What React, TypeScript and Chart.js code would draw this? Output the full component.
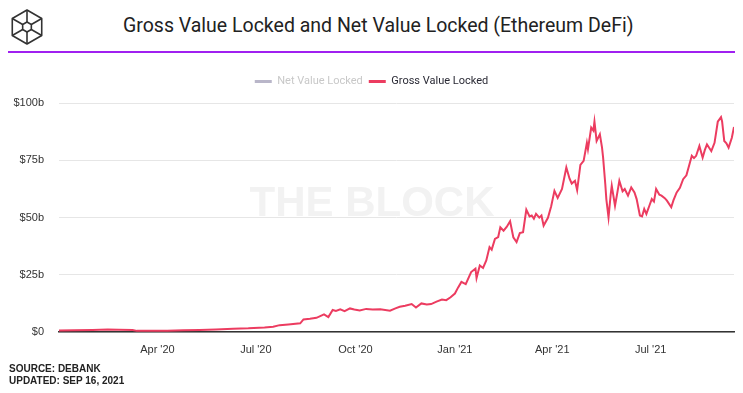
import { useEffect, useRef } from "react";
import { Chart, registerables } from "chart.js";

Chart.register(...registerables);

const START_DATE = "2020-01-01";
const END_DATE = "2021-09-16";

const dates = [
  "2020-01-01", "2020-01-15", "2020-02-01", "2020-02-15", "2020-02-25", "2020-03-09", "2020-03-13", "2020-03-26",
  "2020-04-10", "2020-04-25", "2020-05-10", "2020-05-25", "2020-06-10", "2020-06-24", "2020-07-09", "2020-07-17",
  "2020-07-23", "2020-07-31", "2020-08-11", "2020-08-14", "2020-08-20", "2020-08-26", "2020-09-02", "2020-09-06",
  "2020-09-10", "2020-09-13", "2020-09-17", "2020-09-21", "2020-09-26", "2020-09-30", "2020-10-05", "2020-10-11",
  "2020-10-17", "2020-10-24", "2020-11-02", "2020-11-07", "2020-11-11", "2020-11-16", "2020-11-22", "2020-11-26",
  "2020-12-01", "2020-12-06", "2020-12-10", "2020-12-15", "2020-12-20", "2020-12-24", "2020-12-28", "2021-01-01",
  "2021-01-04", "2021-01-07", "2021-01-11", "2021-01-16", "2021-01-20", "2021-01-21", "2021-01-24", "2021-01-27",
  "2021-01-30", "2021-02-02", "2021-02-04", "2021-02-07", "2021-02-10", "2021-02-12", "2021-02-15", "2021-02-18",
  "2021-02-21", "2021-02-24", "2021-02-27", "2021-03-02", "2021-03-05", "2021-03-08", "2021-03-11", "2021-03-13",
  "2021-03-15", "2021-03-17", "2021-03-20", "2021-03-22", "2021-03-24", "2021-03-28", "2021-03-31", "2021-04-03",
  "2021-04-06", "2021-04-10", "2021-04-14", "2021-04-17", "2021-04-19", "2021-04-22", "2021-04-24", "2021-04-27",
  "2021-04-30", "2021-05-03", "2021-05-04", "2021-05-07", "2021-05-09", "2021-05-10", "2021-05-12", "2021-05-15",
  "2021-05-17", "2021-05-18", "2021-05-20", "2021-05-21", "2021-05-23", "2021-05-25", "2021-05-26", "2021-05-29",
  "2021-05-31", "2021-06-02", "2021-06-05", "2021-06-07", "2021-06-10", "2021-06-13", "2021-06-16", "2021-06-18",
  "2021-06-21", "2021-06-23", "2021-06-25", "2021-06-27", "2021-06-30", "2021-07-02", "2021-07-04", "2021-07-06",
  "2021-07-09", "2021-07-11", "2021-07-14", "2021-07-16", "2021-07-20", "2021-07-22", "2021-07-25", "2021-07-28",
  "2021-07-31", "2021-08-03", "2021-08-05", "2021-08-08", "2021-08-10", "2021-08-12", "2021-08-15", "2021-08-18",
  "2021-08-20", "2021-08-22", "2021-08-24", "2021-08-26", "2021-08-29", "2021-09-01", "2021-09-04", "2021-09-05",
  "2021-09-07", "2021-09-09", "2021-09-11", "2021-09-14", "2021-09-16",
];

// Gross Value Locked, billions USD
const grossValues = [
  0.7, 0.8, 0.9, 1.1, 1.0, 0.9, 0.5, 0.55,
  0.6, 0.75, 0.9, 1.1, 1.4, 1.6, 2.0, 2.3,
  3.0, 3.3, 3.8, 5.5, 5.8, 6.2, 7.7, 6.5,
  9.6, 9.2, 9.9, 9.1, 10.3, 9.8, 9.4, 10.1,
  9.8, 9.9, 9.3, 10.3, 11.0, 11.5, 12.2, 10.7,
  12.5, 12.0, 12.2, 13.3, 14.2, 13.9, 15.2, 16.8,
  19.5, 21.9, 20.9, 26.2, 27.7, 23.6, 29.1, 28.0,
  31.3, 37.1, 36.0, 40.7, 41.5, 45.8, 44.3, 46.0,
  48.4, 41.4, 39.3, 43.2, 43.6, 53.5, 50.5, 50.9,
  49.5, 51.6, 50.0, 50.9, 46.5, 49.9, 55.0, 61.7,
  58.6, 62.5, 71.9, 67.0, 64.9, 66.1, 62.0, 73.0,
  74.8, 82.7, 79.9, 89.3, 88.0, 91.9, 83.5, 86.4,
  80.6, 76.2, 64.7, 58.0, 50.1, 60.0, 63.9, 55.2,
  60.5, 66.1, 61.5, 62.5, 59.6, 63.2, 61.0, 58.1,
  50.9, 50.5, 53.8, 51.6, 55.5, 58.1, 57.0, 62.5,
  60.0, 59.6, 58.5, 57.4, 54.5, 57.5, 61.0, 63.0,
  66.8, 68.5, 71.9, 77.0, 76.0, 77.0, 81.3, 76.2,
  79.5, 82.0, 80.5, 79.1, 82.7, 91.9, 93.9, 92.0,
  83.5, 82.5, 80.6, 84.9, 89.6,
];

// Net Value Locked is toggled off in the reference (no visible line)
const netValues: number[] = [];

const tickDates = ["2020-04-01", "2020-07-01", "2020-10-01", "2021-01-01", "2021-04-01", "2021-07-01"];
const tickLabels = ["Apr '20", "Jul '20", "Oct '20", "Jan '21", "Apr '21", "Jul '21"];

const yTicks = [0, 25, 50, 75, 100];
const yTickLabels = ["$0", "$25b", "$50b", "$75b", "$100b"];

const seriesNames = ["Net Value Locked", "Gross Value Locked"];

const dayOf = (d: string) =>
  Math.round((Date.parse(d + "T00:00:00Z") - Date.parse(START_DATE + "T00:00:00Z")) / 86400000);

const watermark = {
  id: "watermark",
  beforeDatasetsDraw(chart: any) {
    const { ctx, chartArea } = chart;
    ctx.save();
    ctx.font = "bold 42px 'Liberation Sans', Arial, sans-serif";
    ctx.fillStyle = "#f2f2f2";
    ctx.textAlign = "center";
    ctx.textBaseline = "alphabetic";
    ctx.fillText("THE BLOCK", chartArea.left + 313, chartArea.top + 113);
    ctx.restore();
  },
};

export default function App() {
  const ref = useRef<HTMLCanvasElement | null>(null);

  useEffect(() => {
    if (!ref.current) return;
    const gross = dates.map((d, i) => ({ x: dayOf(d), y: grossValues[i] }));
    const net = netValues.map((v, i) => ({ x: dayOf(dates[i]), y: v }));
    const chart = new Chart(ref.current, {
      type: "line",
      data: {
        datasets: [
          {
            label: seriesNames[0],
            data: net,
            hidden: true,
            borderColor: "#b9b6c9",
            backgroundColor: "#b9b6c9",
            pointRadius: 0,
          },
          {
            label: seriesNames[1],
            data: gross,
            borderColor: "#ec3c60",
            backgroundColor: "#ec3c60",
            borderWidth: 2,
            pointRadius: 0,
            tension: 0,
          },
        ],
      },
      options: {
        animation: false,
        responsive: false,
        layout: { padding: { top: 70, right: 9, bottom: 33, left: 9 } },
        plugins: {
          tooltip: { enabled: false },
          title: {
            display: true,
            text: "",
            weight: 500,
            font: { size: 1 },
            padding: { top: 0, bottom: 5 },
          } as any,
          legend: {
            display: true,
            position: "top",
            labels: {
              usePointStyle: true,
              pointStyleWidth: 17,
              padding: 6,
              font: { family: "Roboto, 'Noto Sans', sans-serif", size: 11 },
              generateLabels: () => [
                {
                  text: seriesNames[0],
                  fillStyle: "#b9b6c9",
                  strokeStyle: "#b9b6c9",
                  lineWidth: 3,
                  pointStyle: "line",
                  hidden: false,
                  fontColor: "#c8c8c8",
                  datasetIndex: 0,
                },
                {
                  text: seriesNames[1],
                  fillStyle: "#ec3c60",
                  strokeStyle: "#ec3c60",
                  lineWidth: 3,
                  pointStyle: "line",
                  hidden: false,
                  fontColor: "#2a2a35",
                  datasetIndex: 1,
                },
              ],
            },
          },
        },
        scales: {
          x: {
            type: "linear",
            min: 0,
            max: dayOf(END_DATE),
            afterFit: (s: any) => {
              s.height = 28;
            },
            afterBuildTicks: (s: any) => {
              s.ticks = tickDates.map((d) => ({ value: dayOf(d) }));
            },
            ticks: {
              autoSkip: false,
              maxRotation: 0,
              padding: 11,
              color: "#333",
              font: { family: "'Liberation Sans', Arial, sans-serif", size: 11 },
              callback: (v: any) => {
                const i = tickDates.findIndex((d) => dayOf(d) === v);
                return i >= 0 ? tickLabels[i] : "";
              },
            },
            grid: { display: false, drawTicks: false },
            border: { display: true, color: "#333", width: 1.5 },
          },
          y: {
            min: 0,
            max: 100,
            afterFit: (s: any) => {
              s.width = 50;
            },
            afterBuildTicks: (s: any) => {
              s.ticks = yTicks.map((v) => ({ value: v }));
            },
            ticks: {
              padding: 15,
              color: "#333",
              font: { family: "'Liberation Sans', Arial, sans-serif", size: 11 },
              callback: (v: any) => {
                const i = yTicks.indexOf(v);
                return i >= 0 ? yTickLabels[i] : "";
              },
            },
            grid: { color: "#e6e6e6", drawTicks: false, lineWidth: 1 },
            border: { display: false },
          },
        },
      },
      plugins: [watermark],
    });
    return () => chart.destroy();
  }, []);

  const hex = (cx: number, cy: number, r: number) =>
    [-90, -30, 30, 90, 150, 210].map((a) => [cx + r * Math.cos((a * Math.PI) / 180), cy + r * Math.sin((a * Math.PI) / 180)]);
  const outer = hex(18, 19, 17);
  const inner = hex(18, 19, 5);

  return (
    <div
      style={{
        position: "fixed",
        left: 0,
        top: 0,
        width: 743,
        height: 393,
        background: "#fff",
        overflow: "hidden",
      }}
    >
      <svg width={36} height={38} style={{ position: "absolute", left: 9, top: 8 }}>
        <g fill="none" stroke="#333" strokeWidth={1.6} strokeLinejoin="round">
          <polygon points={outer.map((p) => p.join(",")).join(" ")} />
          <polygon points={inner.map((p) => p.join(",")).join(" ")} />
          {outer.map((p, i) => (
            <line key={i} x1={p[0]} y1={p[1]} x2={inner[i][0]} y2={inner[i][1]} />
          ))}
        </g>
      </svg>
      <div
        style={{
          position: "absolute",
          left: 123,
          top: 13,
          fontFamily: "Roboto, 'Noto Sans', sans-serif",
          fontSize: 19.5,
          lineHeight: "26px",
          color: "#222",
          whiteSpace: "nowrap",
        }}
      >
        Gross Value Locked and Net Value Locked (Ethereum DeFi)
      </div>
      <div style={{ position: "absolute", left: 8, top: 51, width: 727, height: 2, background: "#a020f0" }} />
      <canvas ref={ref} width={743} height={393} style={{ position: "absolute", left: 0, top: 0 }} />
      <div
        style={{
          position: "absolute",
          left: 9,
          top: 363,
          fontFamily: "'Liberation Sans', Arial, sans-serif",
          fontWeight: "bold",
          fontSize: 10,
          lineHeight: "12px",
          color: "#222",
          whiteSpace: "nowrap",
        }}
      >
        <div>SOURCE: DEBANK</div>
        <div>UPDATED: SEP 16, 2021</div>
      </div>
    </div>
  );
}
